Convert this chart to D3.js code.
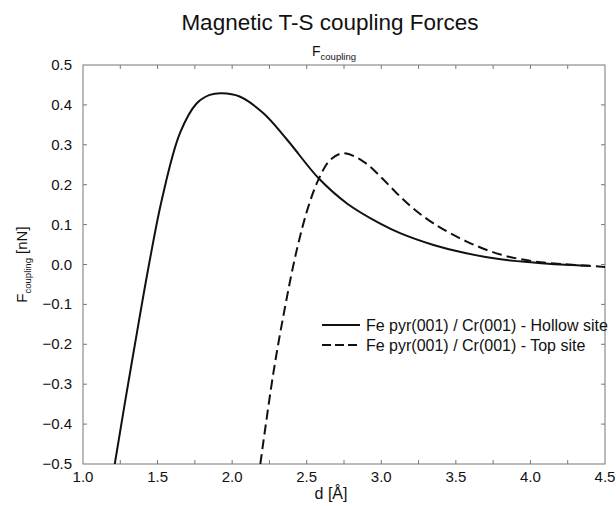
<!DOCTYPE html>
<meta charset="utf-8">
<head lang="en">
    <title>Magnetic T-S coupling Forces</title>
    <script type="text/javascript" src="https://cdn.jsdelivr.net/npm/d3@7"></script>
    <style type="text/css">
        body {
            margin: 0;
            background: #fff;
        }
        text {
            font-family: "Liberation Sans", Arial, Helvetica, sans-serif;
            fill: #111;
        }
        /* curves: no fill, black stroke */
        .line {
            fill: none;
            stroke: #111;
            stroke-width: 2;
        }
        .dashed {
            stroke-dasharray: 10, 5;
        }
        .frame {
            fill: none;
            stroke: #777;
            stroke-width: 1;
        }
        .tick-mark {
            stroke: #777;
            stroke-width: 1;
        }
    </style>
</head>

<body>
<script type="text/javascript">

    // data: d [Angstrom] and F [nN]
    var hollowD = [1.213, 1.284, 1.362, 1.44, 1.53, 1.65, 1.763, 1.85, 1.93, 2.05, 2.21, 2.37,
                   2.58, 2.77, 2.99, 3.13, 3.35, 3.57, 3.8, 4.02, 4.2, 4.4];
    var hollowF = [-0.5, -0.34, -0.17, -0.005, 0.165, 0.329, 0.404, 0.425, 0.429, 0.421, 0.379, 0.312,
                   0.216, 0.153, 0.103, 0.078, 0.049, 0.028, 0.013, 0.005, 0.0, -0.003];

    var topD = [2.189, 2.276, 2.355, 2.433, 2.511, 2.578, 2.657, 2.75, 2.88, 2.99, 3.1, 3.2, 3.35,
                3.57, 3.8, 4.02, 4.25, 4.5];
    var topF = [-0.5, -0.273, -0.106, 0.036, 0.145, 0.212, 0.262, 0.279, 0.258, 0.222, 0.18, 0.145, 0.103,
                0.058, 0.025, 0.008, 0.0, -0.006];

    var xTicks = [1.0, 1.5, 2.0, 2.5, 3.0, 3.5, 4.0, 4.5];
    var xMinor = [1.25, 1.5, 1.75, 2.0, 2.25, 2.5, 2.75, 3.0, 3.25, 3.5, 3.75, 4.0, 4.25];
    var yTicks = [-0.5, -0.4, -0.3, -0.2, -0.1, 0.0, 0.1, 0.2, 0.3, 0.4, 0.5];

    var legendNames = ["Fe pyr(001) / Cr(001) - Hollow site", "Fe pyr(001) / Cr(001) - Top site"];

    var width = 616;
    var height = 506;
    var plot = {left: 83, right: 605, top: 65, bottom: 464};

    var svg = d3.select("body")
        .append("svg")
        .attr("width", width)
        .attr("height", height);

    var xScale = d3.scaleLinear()
        .domain([1.0, 4.5])
        .range([plot.left, plot.right]);
    var yScale = d3.scaleLinear()
        .domain([-0.5, 0.5])
        .range([plot.bottom, plot.top]);

    // clip the curves to the frame
    svg.append("clipPath")
        .attr("id", "clip")
        .append("rect")
        .attr("x", plot.left)
        .attr("y", plot.top)
        .attr("width", plot.right - plot.left)
        .attr("height", plot.bottom - plot.top);

    //frame
    svg.append("rect")
        .attr("class", "frame")
        .attr("x", plot.left)
        .attr("y", plot.top)
        .attr("width", plot.right - plot.left)
        .attr("height", plot.bottom - plot.top);

    // inward ticks on all four sides
    var tickLen = 4;
    svg.selectAll(".xtick-b")
        .data(xMinor)
        .enter()
        .append("line")
        .attr("class", "tick-mark")
        .attr("x1", function (d) { return xScale(d); })
        .attr("x2", function (d) { return xScale(d); })
        .attr("y1", plot.bottom)
        .attr("y2", plot.bottom - tickLen);
    svg.selectAll(".xtick-t")
        .data(xMinor)
        .enter()
        .append("line")
        .attr("class", "tick-mark")
        .attr("x1", function (d) { return xScale(d); })
        .attr("x2", function (d) { return xScale(d); })
        .attr("y1", plot.top)
        .attr("y2", plot.top + tickLen);
    svg.selectAll(".ytick-l")
        .data(yTicks.slice(1, -1))
        .enter()
        .append("line")
        .attr("class", "tick-mark")
        .attr("x1", plot.left)
        .attr("x2", plot.left + tickLen)
        .attr("y1", function (d) { return yScale(d); })
        .attr("y2", function (d) { return yScale(d); });
    svg.selectAll(".ytick-r")
        .data(yTicks.slice(1, -1))
        .enter()
        .append("line")
        .attr("class", "tick-mark")
        .attr("x1", plot.right)
        .attr("x2", plot.right - tickLen)
        .attr("y1", function (d) { return yScale(d); })
        .attr("y2", function (d) { return yScale(d); });

    // tick labels
    svg.selectAll(".xlabel")
        .data(xTicks)
        .enter()
        .append("text")
        .attr("x", function (d) { return xScale(d); })
        .attr("y", plot.bottom + 18)
        .attr("text-anchor", "middle")
        .attr("font-size", "15px")
        .text(function (d) { return d3.format(".1f")(d); });
    svg.selectAll(".ylabel")
        .data(yTicks)
        .enter()
        .append("text")
        .attr("x", plot.left - 11)
        .attr("y", function (d) { return yScale(d) + 5; })
        .attr("text-anchor", "end")
        .attr("font-size", "15px")
        .text(function (d) { return d3.format(".1f")(d); });

    //curves
    var line = d3.line()
        .x(function (p) { return xScale(p[0]); })
        .y(function (p) { return yScale(p[1]); })
        .curve(d3.curveCatmullRom.alpha(0.5));

    var hollow = d3.zip(hollowD, hollowF);
    var topSite = d3.zip(topD, topF);

    svg.append("path")
        .datum(hollow)
        .attr("class", "line")
        .attr("clip-path", "url(#clip)")
        .attr("d", line);
    svg.append("path")
        .datum(topSite)
        .attr("class", "line dashed")
        .attr("clip-path", "url(#clip)")
        .attr("d", line);

    // legend
    var legendX = 322, legendY = 325;
    svg.selectAll(".legline")
        .data(legendNames)
        .enter()
        .append("line")
        .attr("class", function (d, i) { return i === 0 ? "line" : "line dashed"; })
        .style("stroke-dasharray", function (d, i) { return i === 0 ? null : "9,4"; })
        .attr("x1", legendX)
        .attr("x2", legendX + 38)
        .attr("y1", function (d, i) { return legendY + i * 20; })
        .attr("y2", function (d, i) { return legendY + i * 20; });
    svg.selectAll(".legtext")
        .data(legendNames)
        .enter()
        .append("text")
        .attr("x", legendX + 44)
        .attr("y", function (d, i) { return legendY + i * 20 + 6; })
        .attr("font-size", "16px")
        .text(function (d) { return d; });

    //title
    svg.append("text")
        .attr("x", 330)
        .attr("y", 30)
        .attr("text-anchor", "middle")
        .attr("font-size", "22.5px")
        .text("Magnetic T-S coupling Forces");

    var sub = svg.append("text")
        .attr("x", 334)
        .attr("y", 56)
        .attr("text-anchor", "middle")
        .attr("font-size", "14px");
    sub.append("tspan").text("F");
    sub.append("tspan").attr("dy", 4).attr("font-size", "9.5px").text("coupling");

    //axis titles
    svg.append("text")
        .attr("x", 331)
        .attr("y", 499)
        .attr("text-anchor", "middle")
        .attr("font-size", "16px")
        .text("d [Å]");

    var yt = svg.append("text")
        .attr("transform", "translate(27," + yScale(0) + ") rotate(-90)")
        .attr("text-anchor", "middle")
        .attr("font-size", "15px");
    yt.append("tspan").text("F");
    yt.append("tspan").attr("dy", 4).attr("font-size", "9.5px").text("coupling");
    yt.append("tspan").attr("dy", -4).text(" [nN]");

</script>
</body>
